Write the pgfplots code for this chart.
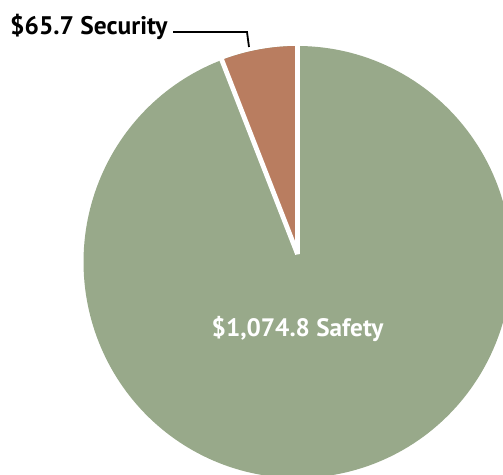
\documentclass[border=0pt]{standalone}
\usepackage{pgfplots}
\pgfplotsset{compat=1.18}
\usepackage{fontspec}
\setmainfont{PT Sans}
\definecolor{safetygreen}{RGB}{152,169,138}
\definecolor{securitybrown}{RGB}{185,125,96}

% spending by category
\def\safety{1074.8}
\def\security{65.7}

\begin{document}
\begin{tikzpicture}
\pgfmathsetmacro{\total}{\safety+\security}
\pgfmathsetmacro{\secshare}{\security/\total}
\pgfmathsetmacro{\secangle}{360*\secshare}
\pgfmathsetmacro{\secend}{90+\secangle}
% pie geometry (axis units = pt)
\def\cx{297.5}\def\cy{212}\def\rx{214}\def\ry{216}\def\apex{220}
\begin{axis}[
  scale only axis, width=503pt, height=474pt,
  xmin=0, xmax=503, ymin=0, ymax=474,
  hide axis, clip=true,
]
% safety: the whole disc, the security wedge is laid over it
\addplot[fill=safetygreen, draw=none, domain=0:360, samples=240]
  ({\cx+\rx*cos(x)},{\cy+\ry*sin(x)}) -- cycle;
% security wedge
\addplot[fill=securitybrown, draw=none, domain=90:\secend, samples=30]
  ({\cx+\rx*cos(x)},{\cy+\ry*sin(x)}) -- (axis cs:\cx,\apex) -- cycle;
% white separators between the slices
\addplot[draw=white, line width=4.8pt, line join=bevel] coordinates {
  ({\cx+(\rx+6)*cos(\secend)},{\cy+(\ry+6)*sin(\secend)})
  (\cx,\apex)
  (\cx,{\cy+\ry+6})
};
% leader line
\draw[black, line width=1.8pt] (axis cs:173,442) -- (axis cs:247,442) -- (axis cs:249,427);
\node[anchor=base west, inner sep=0pt, font=\bfseries\fontsize{25.4}{28}\selectfont]
  at (axis cs:10,439) {\$65.7 Security};
\node[anchor=base, inner sep=0pt, text=white, font=\bfseries\fontsize{25.2}{28}\selectfont]
  at (axis cs:297.5,137) {\$1,074.8 Safety};
\end{axis}
\pgfresetboundingbox
\path (current axis.south west) rectangle (current axis.north east);
\end{tikzpicture}
\end{document}
